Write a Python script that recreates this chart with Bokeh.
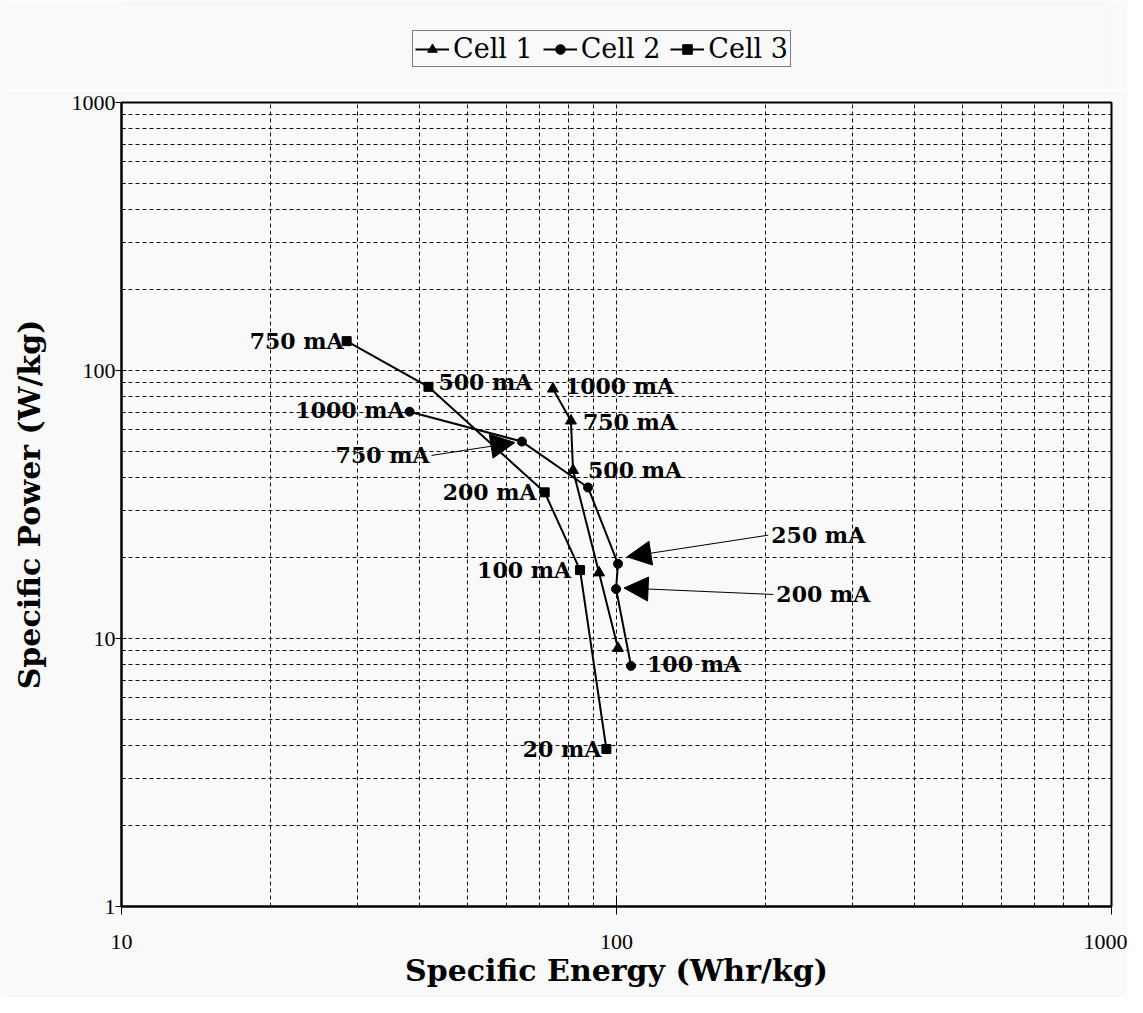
from bokeh.plotting import figure
from bokeh.layouts import column
from bokeh.models import (ColumnDataSource, Legend, LegendItem, Arrow, NormalHead,
                          FixedTicker, PrintfTickFormatter)
from bokeh.core.properties import value
from bokeh.embed import file_html
from bokeh.resources import INLINE

# ---------------- data ----------------
cell1_energy = [74.4, 80.9, 81.7, 92.2, 100.7]
cell1_power = [85.4, 64.9, 42.4, 17.6, 9.2]

cell2_energy = [38.2, 64.4, 87.6, 100.7, 99.8, 107.0]
cell2_power = [70.2, 54.3, 36.6, 19.0, 15.3, 7.9]

cell3_energy = [28.5, 41.7, 71.6, 84.4, 95.4]
cell3_power = [128.7, 86.9, 35.1, 18.0, 3.87]

series_names = ["Cell 1", "Cell 2", "Cell 3"]

x_major_ticks = [10, 100, 1000]
x_minor_ticks = [20, 30, 40, 50, 60, 70, 80, 90, 200, 300, 400, 500, 600, 700, 800, 900]
y_major_ticks = [1, 10, 100, 1000]
y_minor_ticks = [2, 3, 4, 5, 6, 7, 8, 9, 20, 30, 40, 50, 60, 70, 80, 90,
                 200, 300, 400, 500, 600, 700, 800, 900]

# point labels: (series, point index, text, side, dx px, dy px)
point_labels = [
    (0, 0, "1000 mA", "left", 12, -3),
    (0, 1, "750 mA", "left", 12, 1),
    (0, 2, "500 mA", "left", 15, 0),
    (1, 0, "1000 mA", "right", -5, -2),
    (1, 5, "100 mA", "left", 16, -2),
    (2, 0, "750 mA", "right", -3, 0),
    (2, 1, "500 mA", "left", 10, -5),
    (2, 2, "200 mA", "right", -8, 0),
    (2, 3, "100 mA", "right", -9, 0),
    (2, 4, "20 mA", "right", -5, 0),
]
# arrow-annotated labels: (series, point index, text, label x, label y, side, tip dx px, tip dy px)
arrow_labels = [
    (1, 1, "750 mA", 42.3, 48.2, "right", -7, 1),
    (1, 3, "250 mA", 202.6, 24.3, "left", 9, -7),
    (1, 4, "200 mA", 207.4, 14.6, "left", 8, -1),
]

energies = [cell1_energy, cell2_energy, cell3_energy]
powers = [cell1_power, cell2_power, cell3_power]
markers = ["triangle", "circle", "square"]
msizes = [11, 9, 9]

BG = "#f8f9f8"
SERIF = "DejaVu Serif"
W = 1127
TOP_H = 90

p = figure(width=W, height=997 - TOP_H, x_axis_type="log", y_axis_type="log",
           x_range=(10, 1000), y_range=(1, 1000),
           output_backend="svg", toolbar_location=None,
           background_fill_color=BG, border_fill_color=BG,
           min_border_left=121, min_border_right=16,
           min_border_top=12, min_border_bottom=91)

p.outline_line_color = "black"
p.outline_line_width = 2

p.xaxis.ticker = FixedTicker(ticks=x_major_ticks, minor_ticks=x_minor_ticks)
p.yaxis.ticker = FixedTicker(ticks=y_major_ticks, minor_ticks=y_minor_ticks)
p.xaxis.formatter = PrintfTickFormatter(format="%d")
p.yaxis.formatter = PrintfTickFormatter(format="%d")

# grids
for g in (p.xgrid, p.ygrid):
    g.grid_line_color = "#111111"
    g.grid_line_dash = "4 3"
    g.grid_line_width = 1
    g.minor_grid_line_color = "#111111"
    g.minor_grid_line_dash = "4 3"
    g.minor_grid_line_width = 1

# axes
p.xaxis.axis_label = "Specific Energy (Whr/kg)"
p.yaxis.axis_label = "Specific Power (W/kg)"
for ax in (p.xaxis, p.yaxis):
    ax.axis_label_text_font = SERIF
    ax.axis_label_text_font_style = "bold"
    ax.axis_label_text_font_size = "30px"
    ax.axis_label_text_color = "black"
    ax.major_label_text_font = "Liberation Serif"
    ax.major_label_text_font_size = "22px"
    ax.major_label_text_color = "black"
    ax.axis_line_color = "black"
    ax.axis_line_width = 2
    ax.major_tick_line_color = "black"
    ax.major_tick_line_width = 1

p.xaxis.major_tick_in = 8
p.xaxis.major_tick_out = 8
p.xaxis.minor_tick_line_color = None
p.xaxis.major_label_standoff = 20
p.xaxis.axis_label_standoff = 1

p.yaxis.major_tick_in = 5
p.yaxis.major_tick_out = 6
p.yaxis.minor_tick_in = 4
p.yaxis.minor_tick_out = 0
p.yaxis.minor_tick_line_color = "black"
p.yaxis.major_label_standoff = 0
p.yaxis.axis_label_standoff = 22

# legend strip above the plot (its own small figure, same data sources)
top = figure(width=W, height=TOP_H, x_range=(0, 1), y_range=(0, 1),
             output_backend="svg", toolbar_location=None,
             x_axis_location=None, y_axis_location=None,
             background_fill_color=BG, border_fill_color=BG,
             min_border=0, outline_line_color=None)
top.grid.visible = False

# series
items = []
for i in range(3):
    src = ColumnDataSource(dict(x=energies[i], y=powers[i]))
    p.line("x", "y", source=src, line_color="black", line_width=2)
    p.scatter("x", "y", source=src, marker=markers[i], size=msizes[i],
              fill_color="black", line_color="black")
    # same series in the legend strip (outside its visible range) to key the legend
    ln = top.line("x", "y", source=src, line_color="black", line_width=2)
    sc = top.scatter("x", "y", source=src, marker=markers[i], size=msizes[i],
                     fill_color="black", line_color="black")
    items.append(LegendItem(label=series_names[i], renderers=[ln, sc]))

# point labels
for side in ("left", "right"):
    rows = [r for r in point_labels if r[3] == side]
    src = ColumnDataSource(dict(
        x=[energies[r[0]][r[1]] for r in rows],
        y=[powers[r[0]][r[1]] for r in rows],
        t=[r[2] for r in rows],
        dx=[r[4] for r in rows],
        dy=[r[5] for r in rows],
    ))
    p.text("x", "y", text="t", source=src, x_offset="dx", y_offset="dy",
           text_align=side, text_baseline="middle",
           text_font=value(SERIF), text_font_style="bold",
           text_font_size="22px", text_color="black")

# arrow labels
DEC_X, DEC_Y = 494.0, 269.5  # px per decade (for small pixel nudges of arrow tips)
for s, idx, txt, lx, ly, side, tdx, tdy in arrow_labels:
    px, py = energies[s][idx], powers[s][idx]
    xe = px * 10 ** (tdx / DEC_X)
    ye = py * 10 ** (-tdy / DEC_Y)
    p.add_layout(Arrow(end=NormalHead(size=24, fill_color="black", line_color="black"),
                       x_start=lx, y_start=ly, x_end=xe, y_end=ye,
                       line_color="black", line_width=1))
    src = ColumnDataSource(dict(x=[lx], y=[ly], t=[txt]))
    p.text("x", "y", text="t", source=src,
           x_offset=(-2 if side == "right" else 3),
           text_align=side, text_baseline="middle",
           text_font=value(SERIF), text_font_style="bold",
           text_font_size="22px", text_color="black")

legend = Legend(items=items, location=(291, 23), orientation="horizontal",
                label_text_font=SERIF, label_text_font_size="27px",
                label_text_color="black",
                glyph_width=34, glyph_height=24, label_standoff=4, spacing=10,
                padding=2, margin=0,
                border_line_color="black", border_line_width=1,
                background_fill_color=BG, background_fill_alpha=1.0)
top.add_layout(legend, "center")

layout = column(top, p, spacing=0)
open("out.html", "w").write(file_html(layout, INLINE))
